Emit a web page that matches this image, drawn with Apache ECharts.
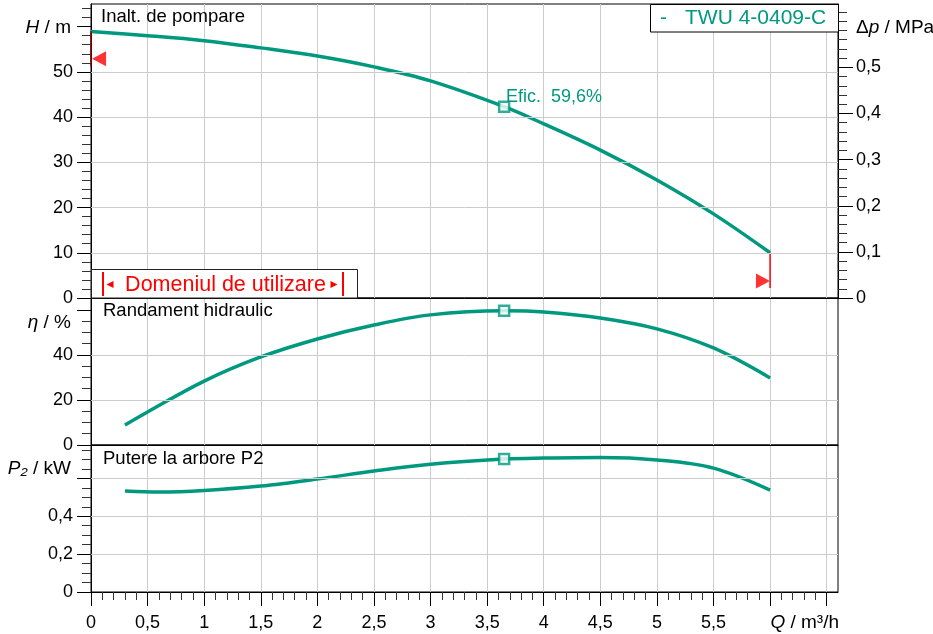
<!DOCTYPE html>
<html><head><meta charset="utf-8">
<script src="https://cdn.jsdelivr.net/npm/echarts@6/dist/echarts.min.js"></script>
<style>html,body{margin:0;padding:0;background:#fff}#c{width:933px;height:634px}</style>
</head><body><div id="c"></div>
<script>
// ---- data ----
const flowQ  = [0, 0.5, 1, 1.5, 2, 2.5, 3, 3.65, 4, 4.5, 5, 5.5, 6];
const headH  = [58.9, 58.0, 56.9, 55.3, 53.5, 51.1, 48.0, 42.3, 38.5, 32.7, 26.1, 18.6, 10.0];
const effQ   = [0.3, 0.5, 1, 1.5, 2, 2.5, 3, 3.65, 4, 4.5, 5, 5.5, 6];
const effEta = [8.9, 14.7, 28.4, 39.1, 47.1, 53.3, 57.8, 59.6, 59.1, 56.4, 51.6, 43.1, 29.8];
const powQ   = [0.3, 0.6, 1, 1.5, 2, 2.5, 3, 3.65, 4, 4.5, 5, 5.5, 6];
const powP2  = [0.533, 0.528, 0.536, 0.559, 0.596, 0.639, 0.675, 0.702, 0.707, 0.710, 0.697, 0.654, 0.538];
const dutyPoint = { q: 3.65, h: 42.3, eta: 59.6, p2: 0.702 };
const rangeLeft  = { q: 0, hTop: 59.0, hBottom: 51.2, arrowQ: 0.071, arrowH: 52.9 };
const rangeRight = { q: 6, hTop: 10.0, hBottom: 2.2, arrowQ: 5.937, arrowH: 3.76 };

// ---- ticks / labels ----
const xMajor = [0, 0.5, 1, 1.5, 2, 2.5, 3, 3.5, 4, 4.5, 5, 5.5, 6, 6.5];
const xLabels = [0, 0.5, 1, 1.5, 2, 2.5, 3, 3.5, 4, 4.5, 5, 5.5];
const hMajor = [0, 10, 20, 30, 40, 50, 60];
const hLabels = [0, 10, 20, 30, 40, 50];
const dpMajor = [0, 0.1, 0.2, 0.3, 0.4, 0.5];
const dpLabels = [0, 0.1, 0.2, 0.3, 0.4, 0.5];
const etaMajor = [0, 20, 40, 60];
const etaLabels = [0, 20, 40];
const p2Major = [0, 0.2, 0.4, 0.6];
const p2Labels = [0, 0.2, 0.4];
const hGrid = [10, 20, 30, 40, 50];
const etaGrid = [20, 40];
const p2Grid = [0.2, 0.4, 0.6];

function minors(step, max, majors) {
  const out = [];
  for (let i = 1; i * step <= max + 1e-9; i++) {
    const v = Math.round(i * step * 1000) / 1000;
    if (!majors.some(m => Math.abs(m - v) < 1e-6)) out.push(v);
  }
  return out;
}
const xMinor = minors(0.1, 6.5, xMajor);
const hMinor = minors(2, 64, hMajor);
const dpMinor = minors(0.02, 0.62, dpMajor);
const etaMinor = minors(5, 60, etaMajor);
const p2Minor = minors(0.05, 0.75, p2Major);

const TEAL = '#00997f';
const FONT = 'Liberation Sans, Arial, sans-serif';
const fmt = v => String(v).replace('.', ',');

const X_MAX = 6.6, H_MAX = 65, ETA_MAX = 65.3, P2_MAX = 0.776;
const DP_MAX = H_MAX / 101.97;

const grids = [
  { left: 91, width: 747, top: 4, height: 294 },
  { left: 91, width: 747, top: 298, height: 147 },
  { left: 91, width: 747, top: 445, height: 147 }
].map(g => Object.assign(g, { show: true, borderColor: '#000', borderWidth: 1, backgroundColor: 'transparent', containLabel: false }));

function xAx(gi, showTicks) {
  return {
    type: 'value', gridIndex: gi, min: 0, max: X_MAX, interval: 0.5,
    axisLine: { show: true, onZero: false, lineStyle: { color: '#000', width: 1 } },
    axisTick: { show: showTicks, customValues: xMajor, length: 14, lineStyle: { color: '#000' } },
    axisLabel: { show: showTicks, customValues: xLabels, formatter: fmt, margin: 22, color: '#000', fontSize: 18, fontFamily: FONT },
    splitLine: { show: true, lineStyle: { color: '#cccccc', width: 1 } }
  };
}
function xMinorAx(gi) {
  return {
    type: 'value', gridIndex: gi, min: 0, max: X_MAX, position: 'bottom',
    axisLine: { show: false, onZero: false },
    axisTick: { show: true, customValues: xMinor, length: 8, lineStyle: { color: '#333' } },
    axisLabel: { show: false }, splitLine: { show: false }
  };
}
function yAx(gi, pos, max, major, labels, len) {
  return {
    type: 'value', gridIndex: gi, position: pos, min: 0, max: max,
    axisLine: { show: true, onZero: false, lineStyle: { color: '#000', width: 1 } },
    axisTick: { show: true, customValues: major, length: len, lineStyle: { color: '#000' } },
    axisLabel: { show: true, customValues: labels, formatter: fmt, margin: 18, color: '#000', fontSize: 18, fontFamily: FONT },
    splitLine: { show: false }
  };
}
function yMinorAx(gi, pos, max, minor) {
  return {
    type: 'value', gridIndex: gi, position: pos, min: 0, max: max,
    axisLine: { show: false, onZero: false },
    axisTick: { show: true, customValues: minor, length: 9, lineStyle: { color: '#333' } },
    axisLabel: { show: false }, splitLine: { show: false }
  };
}

function gridLines(xi, yi, vals) {
  return {
    type: 'line', xAxisIndex: xi, yAxisIndex: yi, data: [[0, 0]], showSymbol: false, silent: true, z: 1,
    lineStyle: { opacity: 0 },
    markLine: { silent: true, symbol: 'none', animation: false, label: { show: false },
      lineStyle: { color: '#cccccc', width: 1, type: 'solid' },
      data: vals.map(v => ({ yAxis: v })) }
  };
}
function curve(xi, yi, qs, vs) {
  return {
    type: 'line', xAxisIndex: xi, yAxisIndex: yi, smooth: 0.35, showSymbol: false, z: 3,
    lineStyle: { color: TEAL, width: 3.5 }, data: qs.map((q, i) => [q, vs[i]])
  };
}
function duty(xi, yi, v) {
  return {
    type: 'scatter', xAxisIndex: xi, yAxisIndex: yi, symbol: 'rect', symbolSize: 10, z: 5,
    itemStyle: { color: '#fff', borderColor: TEAL, borderWidth: 2.5 }, data: [[dutyPoint.q, v]]
  };
}
const unitRich = { i: { fontStyle: 'italic', fontSize: 19, fontFamily: FONT } };

const option = {
  animation: false,
  backgroundColor: '#fff',
  grid: grids,
  xAxis: [xAx(0, false), xAx(1, false), xAx(2, true), xMinorAx(2)],
  yAxis: [
    yAx(0, 'left', H_MAX, hMajor, hLabels, 14),
    yMinorAx(0, 'left', H_MAX, hMinor),
    yAx(0, 'right', DP_MAX, dpMajor, dpLabels, 15),
    yMinorAx(0, 'right', DP_MAX, dpMinor),
    yAx(1, 'left', ETA_MAX, etaMajor, etaLabels, 14),
    yMinorAx(1, 'left', ETA_MAX, etaMinor),
    yAx(2, 'left', P2_MAX, p2Major, p2Labels, 14),
    yMinorAx(2, 'left', P2_MAX, p2Minor)
  ],
  series: [
    gridLines(0, 0, hGrid),
    gridLines(1, 4, etaGrid),
    gridLines(2, 6, p2Grid),
    curve(0, 0, flowQ, headH),
    curve(1, 4, effQ, effEta),
    curve(2, 6, powQ, powP2),
    duty(0, 0, dutyPoint.h),
    duty(1, 4, dutyPoint.eta),
    duty(2, 6, dutyPoint.p2),
    { type: 'line', xAxisIndex: 0, yAxisIndex: 0, clip: false, showSymbol: false, z: 4,
      lineStyle: { color: '#8b0000', width: 1.5 },
      data: [[rangeLeft.q, rangeLeft.hTop], [rangeLeft.q, rangeLeft.hBottom]] },
    { type: 'line', xAxisIndex: 0, yAxisIndex: 0, clip: false, showSymbol: false, z: 4,
      lineStyle: { color: '#ff0000', width: 1.5 },
      data: [[rangeRight.q, rangeRight.hTop], [rangeRight.q, rangeRight.hBottom]] },
    { type: 'scatter', xAxisIndex: 0, yAxisIndex: 0, symbol: 'triangle', symbolSize: [15, 14], symbolRotate: 90, z: 4,
      itemStyle: { color: '#ff0000' }, data: [[rangeLeft.arrowQ, rangeLeft.arrowH]] },
    { type: 'scatter', xAxisIndex: 0, yAxisIndex: 0, symbol: 'triangle', symbolSize: [15, 14], symbolRotate: -90, z: 4,
      itemStyle: { color: '#ff0000' }, data: [[rangeRight.arrowQ, rangeRight.arrowH]] }
  ],
  graphic: [
    // panel titles
    { type: 'text', z: 10, left: 101, top: 7, style: { text: 'Inalt. de pompare', font: '18.5px ' + FONT, fill: '#000' } },
    { type: 'text', z: 10, left: 103, top: 301, style: { text: 'Randament hidraulic', font: '18.5px ' + FONT, fill: '#000' } },
    { type: 'text', z: 10, left: 103, top: 449, style: { text: 'Putere la arbore P2', font: '18.5px ' + FONT, fill: '#000' } },
    // unit labels
    { type: 'text', z: 10, x: 71, y: 28, style: { text: '{i|H} / m', align: 'right', verticalAlign: 'middle', font: '19px ' + FONT, fill: '#000', rich: unitRich } },
    { type: 'text', z: 10, x: 856, y: 28, style: { text: 'Δ{i|p} / MPa', align: 'left', verticalAlign: 'middle', font: '19px ' + FONT, fill: '#000', rich: unitRich } },
    { type: 'text', z: 10, x: 71, y: 323, style: { text: '{i|η} / %', align: 'right', verticalAlign: 'middle', font: '19px ' + FONT, fill: '#000', rich: unitRich } },
    { type: 'text', z: 10, x: 71, y: 469, style: { text: '{i|P₂} / kW', align: 'right', verticalAlign: 'middle', font: '19px ' + FONT, fill: '#000', rich: unitRich } },
    { type: 'text', z: 10, x: 839, y: 623, style: { text: '{i|Q} / m³/h', align: 'right', verticalAlign: 'middle', font: '19px ' + FONT, fill: '#000', rich: unitRich } },
    // duty point label
    { type: 'text', x: 506, y: 97, z: 10, style: { text: 'Efic.  59,6%', verticalAlign: 'middle', font: '18px ' + FONT, fill: TEAL } },
    // legend box
    { type: 'rect', z: 20, shape: { x: 650.5, y: 4.5, width: 188, height: 27.5 }, style: { fill: '#fff', stroke: '#000', lineWidth: 1 } },
    { type: 'text', z: 21, x: 660, y: 18.5, style: { text: '-', verticalAlign: 'middle', font: '21px ' + FONT, fill: TEAL } },
    { type: 'text', z: 21, x: 685, y: 18.5, style: { text: 'TWU 4-0409-C', verticalAlign: 'middle', font: '21px ' + FONT, fill: TEAL } },
    // operating range box
    { type: 'rect', z: 20, shape: { x: 91.5, y: 269.5, width: 266, height: 28.5 }, style: { fill: '#fff', stroke: '#222', lineWidth: 1 } },
    { type: 'rect', z: 21, shape: { x: 102, y: 272, width: 2, height: 24 }, style: { fill: '#ff0000' } },
    { type: 'rect', z: 21, shape: { x: 342, y: 272, width: 2, height: 24 }, style: { fill: '#ff0000' } },
    { type: 'polygon', z: 21, shape: { points: [[106.5, 284.5], [113.5, 281], [113.5, 288]] }, style: { fill: '#ff0000' } },
    { type: 'polygon', z: 21, shape: { points: [[337.5, 284.5], [330.5, 281], [330.5, 288]] }, style: { fill: '#ff0000' } },
    { type: 'text', z: 21, x: 225.5, y: 285, style: { text: 'Domeniul de utilizare', align: 'center', verticalAlign: 'middle', font: '21.5px ' + FONT, fill: '#ff0000' } }
  ]
};
const chart = echarts.init(document.getElementById('c'), null, { renderer: 'canvas' });
chart.setOption(option);
</script></body></html>
